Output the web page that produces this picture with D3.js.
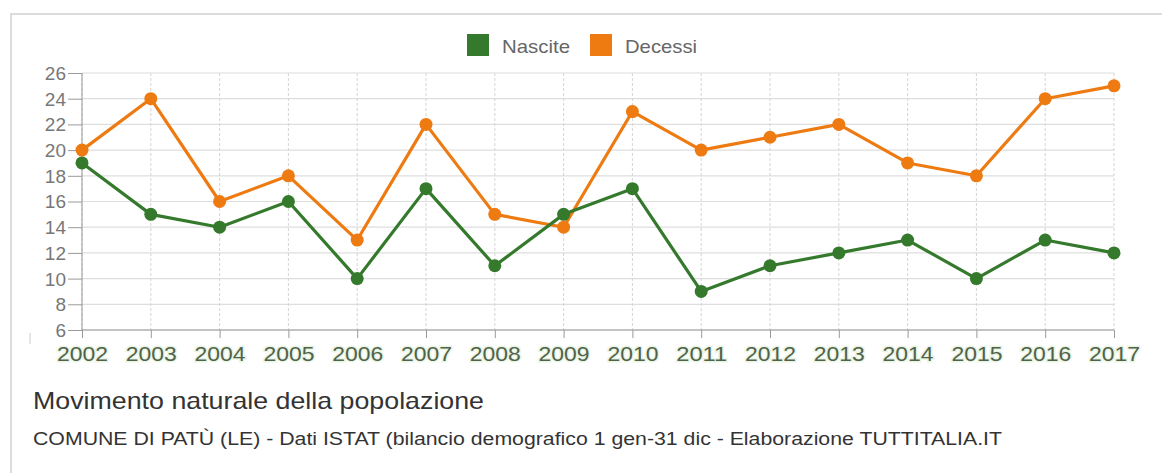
<!DOCTYPE html>
<html><head><meta charset="utf-8">
<script src="https://cdn.jsdelivr.net/npm/d3@7"></script>
<style>
html,body{margin:0;padding:0;background:#fff;}
svg{display:block;font-family:"Liberation Sans",Arial,Helvetica,sans-serif;}
</style></head>
<body><svg id="c" width="1162" height="473"></svg>
<script>
const years = [2002,2003,2004,2005,2006,2007,2008,2009,2010,2011,2012,2013,2014,2015,2016,2017];
const nascite = [19,15,14,16,10,17,11,15,17,9,11,12,13,10,13,12];
const decessi = [20,24,16,18,13,22,15,14,23,20,21,22,19,18,24,25];
const yTicks = [6,8,10,12,14,16,18,20,22,24,26];
const seriesNames = ["Nascite","Decessi"];
const seriesColors = ["#357a2c","#ee7a12"];
const title = "Movimento naturale della popolazione";
const subtitle = "COMUNE DI PATÙ (LE) - Dati ISTAT (bilancio demografico 1 gen-31 dic - Elaborazione TUTTITALIA.IT";

const svg = d3.select("#c");
// frame
svg.append("path").attr("d","M11,473 L11,14 L1162,14").attr("fill","none").attr("stroke","#dcdcdc").attr("stroke-width",2);

const x = d3.scalePoint().domain(years).range([82,1114]);
const y = d3.scaleLinear().domain([6,26]).range([330,73]);

// grid
const g = svg.append("g");
g.selectAll(".hg").data(yTicks).join("line")
  .attr("x1",82).attr("x2",1114).attr("y1",d=>y(d)).attr("y2",d=>y(d))
  .attr("stroke","#dedede").attr("stroke-width",1.2);
g.selectAll(".vg").data(years).join("line")
  .attr("x1",d=>x(d)).attr("x2",d=>x(d)).attr("y1",y(26)).attr("y2",y(6))
  .attr("stroke","#d4d4d4").attr("stroke-width",1).attr("stroke-dasharray","3,2");

// axes
const yAxis = d3.axisLeft(y).tickValues(yTicks).tickSize(14).tickPadding(2);
const ya = svg.append("g").attr("transform","translate(82,0)").call(yAxis);
ya.select(".domain").attr("stroke","#999").attr("d",`M0,${y(26)}V${y(6)}`);
ya.selectAll(".tick line").attr("stroke","#999");
ya.selectAll("text").attr("fill","#777").style("font-size","19px").attr("dy","0.34em");

const xAxis = d3.axisBottom(x).tickSize(8).tickPadding(8);
const xa = svg.append("g").attr("transform",`translate(0,${y(6)})`).call(xAxis);
xa.select(".domain").attr("stroke","#999").attr("d",`M82,0H1114`);
xa.selectAll(".tick line").attr("stroke","#999");
xa.selectAll("text").attr("fill","#52614c").style("font-size","21px").attr("dy","0.71em")
  .attr("textLength",51).attr("lengthAdjust","spacingAndGlyphs")
  .style("paint-order","stroke").attr("stroke","#eaf6e4").attr("stroke-width",3);

// small mark
svg.append("line").attr("x1",30).attr("x2",30).attr("y1",333).attr("y2",344).attr("stroke","#ccc");

// lines
const series = [nascite, decessi];
const line = d3.line().x((d,i)=>x(years[i])).y(d=>y(d));
[1,0].forEach(si=>{
  const s = series[si];
  svg.append("path").datum(s).attr("d",line).attr("fill","none")
    .attr("stroke",seriesColors[si]).attr("stroke-width",3.2).attr("stroke-linejoin","round");
  svg.append("g").selectAll("circle").data(s).join("circle")
    .attr("cx",(d,i)=>x(years[i])).attr("cy",d=>y(d)).attr("r",6.5)
    .attr("fill",seriesColors[si]);
});

// legend
const lg = svg.append("g");
const legX = [467,590];
const legW = [68,72];
seriesNames.forEach((n,i)=>{
  lg.append("rect").attr("x",legX[i]).attr("y",34).attr("width",22).attr("height",22).attr("fill",seriesColors[i]);
  lg.append("text").attr("x",legX[i]+35).attr("y",46).attr("dy","0.35em")
    .attr("fill","#666").style("font-size","19px")
    .attr("textLength",legW[i]).attr("lengthAdjust","spacingAndGlyphs").text(n);
});

// titles
svg.append("text").attr("x",33).attr("y",401).attr("dy","0.35em").attr("fill","#333").style("font-size","24px")
  .attr("textLength",451).attr("lengthAdjust","spacingAndGlyphs").text(title);
svg.append("text").attr("x",33).attr("y",439).attr("dy","0.35em").attr("fill","#333").style("font-size","17.5px")
  .attr("textLength",969).attr("lengthAdjust","spacingAndGlyphs").text(subtitle);
</script></body></html>
